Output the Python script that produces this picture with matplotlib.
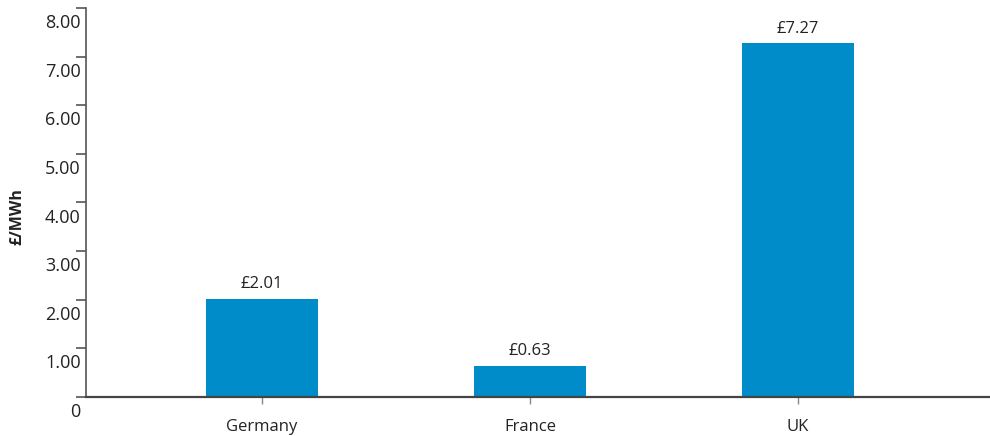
import numpy as np
import matplotlib.pyplot as plt
import matplotlib.transforms as mtransforms

# data
countries = ["Germany", "France", "UK"]
cost = [2.01, 0.63, 7.27]
ytick_vals = [0, 1, 2, 3, 4, 5, 6, 7, 8]
ytick_labels = ["0", "1.00", "2.00", "3.00", "4.00", "5.00", "6.00", "7.00", "8.00"]

bar_color = "#008cc9"
text_color = "#222222"
axis_color = "#555555"

plt.rcParams["font.family"] = ["Open Sans", "DejaVu Sans"]

fig = plt.figure(figsize=(9.9, 4.36), dpi=100)
ax = fig.add_axes([86 / 990, 39 / 436, 904 / 990, 389 / 436])

x = np.arange(len(countries))
bars = ax.bar(x, cost, width=0.42, color=bar_color, zorder=2)

# value labels above each bar
for b, v in zip(bars, cost):
    ax.annotate("£{:.2f}".format(v), (b.get_x() + b.get_width() / 2, v),
                xytext=(0, 5), textcoords="offset points",
                ha="center", va="bottom", fontsize=12, color=text_color)

ax.set_xlim(-0.657, 2.716)
ax.set_ylim(0, 8)

ax.set_xticks(x)
ax.set_xticklabels(countries, fontsize=12, color=text_color)
ax.set_yticks(ytick_vals)
ax.set_yticklabels(ytick_labels, fontsize=13, color=text_color)

ax.tick_params(axis="y", direction="out", length=7.2, width=1.2,
               color=axis_color, pad=-3.5)
ax.tick_params(axis="x", direction="out", length=5, width=1,
               color="#888888", pad=11)

# move y tick labels down so they sit under their tick marks
shift = mtransforms.ScaledTranslation(0, -13 / 100, fig.dpi_scale_trans)
for lbl in ax.get_yticklabels():
    lbl.set_transform(lbl.get_transform() + shift)

for s in ["top", "right"]:
    ax.spines[s].set_visible(False)
ax.spines["left"].set_color(axis_color)
ax.spines["left"].set_linewidth(1.2)
ax.spines["bottom"].set_color("#444444")
ax.spines["bottom"].set_linewidth(1.6)

ax.set_ylabel("£/MWh", fontsize=11.5, fontweight="bold", color=text_color)
ax.yaxis.set_label_coords(-0.067, 0.465)

fig.savefig("out.png", dpi=100)
